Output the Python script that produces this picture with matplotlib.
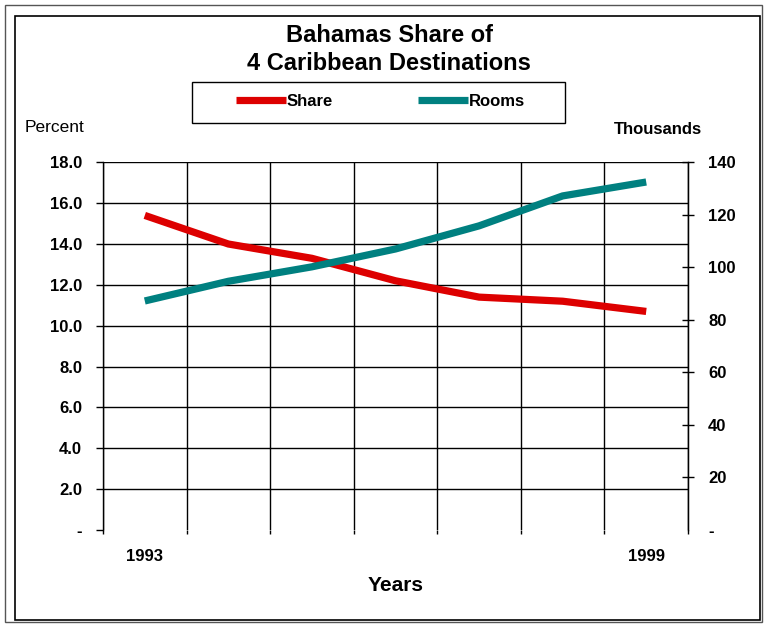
import matplotlib
matplotlib.use("Agg")
import matplotlib.pyplot as plt
from matplotlib.patches import Rectangle

years = ["1993", "1994", "1995", "1996", "1997", "1998", "1999"]
share = [15.4, 14.0, 13.3, 12.2, 11.4, 11.2, 10.7]
rooms = [87.2, 94.7, 100.2, 107.0, 115.8, 127.2, 132.5]
shown_years = ["1993", "", "", "", "", "", "1999"]
left_ticks = [0, 2, 4, 6, 8, 10, 12, 14, 16, 18]
left_labels = ["-", "2.0", "4.0", "6.0", "8.0", "10.0", "12.0", "14.0", "16.0", "18.0"]
right_ticks = [0, 20, 40, 60, 80, 100, 120, 140]
right_labels = ["-", "20", "40", "60", "80", "100", "120", "140"]

RED = "#dd0000"
TEAL = "#008080"

plt.rcParams["font.family"] = ["Liberation Sans", "DejaVu Sans"]
W, H = 764, 625
fig = plt.figure(figsize=(W / 100, H / 100), dpi=100)

# double frame around the whole chart
fig.patches.append(Rectangle((5 / W, 1 - 622 / H), 757 / W, 617 / H, transform=fig.transFigure,
                             fill=False, lw=1.0, ec="#555555"))
fig.patches.append(Rectangle((15 / W, 1 - 620 / H), 745 / W, 604 / H, transform=fig.transFigure,
                             fill=False, lw=1.2, ec="black"))
# legend box
fig.patches.append(Rectangle((192 / W, 1 - 123 / H), 373 / W, 41 / H, transform=fig.transFigure,
                             fill=False, lw=1.0, ec="black"))

ax = fig.add_axes([103 / W, 1 - 530 / H, 585 / W, 367.7 / H])
x = list(range(len(years)))
l1, = ax.plot(x, share, color=RED, lw=5.2, solid_capstyle="butt", zorder=3)
ax.set_xlim(-0.5, len(years) - 0.5)
ax.set_ylim(0, 18)
ax.set_yticks(left_ticks)
ax.set_yticklabels(left_labels, fontsize=12, fontweight="bold")
ax.set_xticks(x)
ax.set_xticklabels(shown_years, fontsize=12, fontweight="bold")
ax.set_xticks([i - 0.5 for i in range(len(years) + 1)], minor=True)
ax.tick_params(axis="x", which="major", length=0, pad=14)
ax.tick_params(axis="x", which="minor", length=3, width=1, direction="out")
ax.tick_params(axis="y", length=5, width=1, pad=10)
ax.grid(axis="y", color="black", lw=1)
ax.grid(axis="x", which="minor", color="black", lw=1)
ax.get_ygridlines()[0].set_visible(False)
ax.yaxis.get_major_ticks()[0].tick1line.set_visible(False)
ax.spines["bottom"].set_visible(False)
ax.spines["top"].set_visible(False)
for s in ("left", "right"):
    ax.spines[s].set_linewidth(1)
ax.set_xlabel("Years", fontsize=15, fontweight="bold", labelpad=8)

ax2 = ax.twinx()
l2, = ax2.plot(x, rooms, color=TEAL, lw=5.2, solid_capstyle="butt", zorder=3)
ax2.set_ylim(0, 140)
ax2.set_yticks(right_ticks)
ax2.set_yticklabels(right_labels, fontsize=12, fontweight="bold")
ax2.tick_params(axis="y", direction="inout", length=9, width=1, pad=10)
ax2.yaxis.get_major_ticks()[0].tick2line.set_visible(False)
for s in ("bottom", "top", "left"):
    ax2.spines[s].set_visible(False)

fig.text(389 / W, 1 - 36 / H, "Bahamas Share of", ha="center", va="center",
         fontsize=17, fontweight="bold")
fig.text(389 / W, 1 - 64 / H, "4 Caribbean Destinations", ha="center", va="center",
         fontsize=17, fontweight="bold")
fig.text(25 / W, 1 - 127 / H, "Percent", ha="left", va="center", fontsize=12.5)
fig.text(658 / W, 1 - 130 / H, "Thousands", ha="center", va="center",
         fontsize=12, fontweight="bold")

leg = fig.legend([l1, l2], ["Share", "Rooms"], loc="center left",
                 bbox_to_anchor=(236 / W, 1 - 101 / H), ncol=2, frameon=False,
                 handlelength=3.0, handletextpad=0.05, columnspacing=5.1,
                 borderpad=0, borderaxespad=0, prop={"size": 12, "weight": "bold"})
leg.set_zorder(5)

fig.savefig("out.png", dpi=100)
